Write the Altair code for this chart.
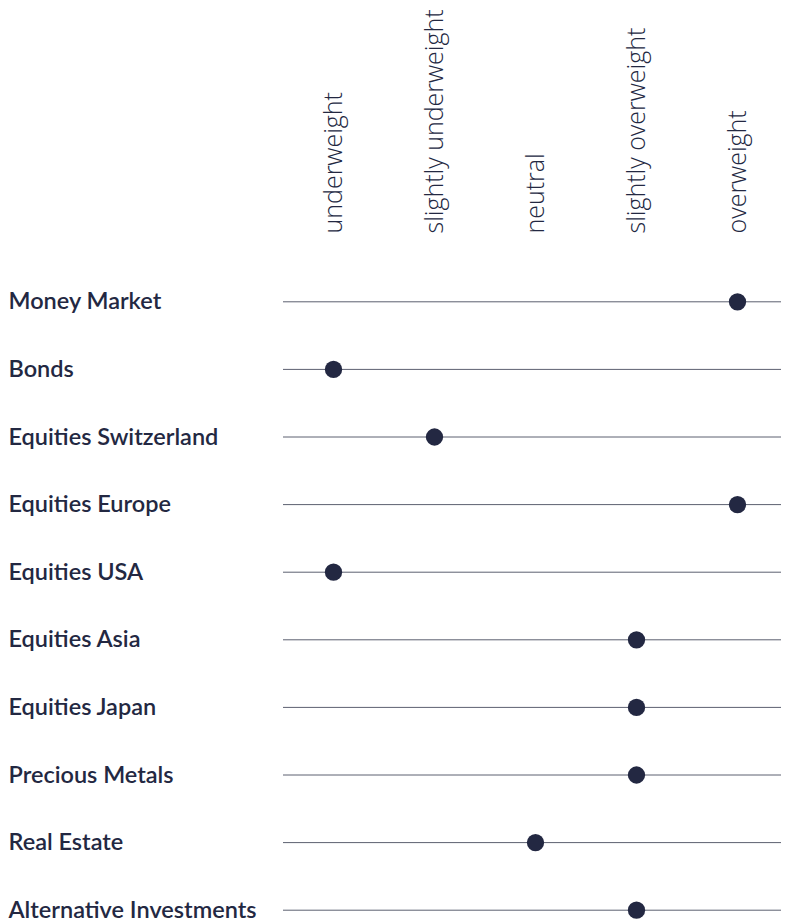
import altair as alt
import pandas as pd

categories = ["Money Market", "Bonds", "Equities Switzerland", "Equities Europe",
              "Equities USA", "Equities Asia", "Equities Japan", "Precious Metals",
              "Real Estate", "Alternative Investments"]
levels = ["underweight", "slightly underweight", "neutral", "slightly overweight", "overweight"]
positions = ["overweight", "underweight", "slightly underweight", "overweight",
             "underweight", "slightly overweight", "slightly overweight",
             "slightly overweight", "neutral", "slightly overweight"]

df = pd.DataFrame({"category": categories, "position": positions})

NAVY = "#232842"
LINE = "#5c6070"

xscale = alt.Scale(type="point", domain=levels, padding=0.5, range=[0, 505])
yscale = alt.Scale(type="point", domain=categories, padding=0.5)

base = alt.Chart(df)

rules = base.mark_rule(color=LINE, strokeWidth=1).encode(
    y=alt.Y("category:N", scale=yscale, sort=categories,
            axis=alt.Axis(title=None, orient="left", ticks=False, domain=False, grid=False,
                          labelAlign="left", labelPadding=275, labelBaseline="middle",
                          labelFont="Lato", labelFontWeight=600, labelFontSize=23.5,
                          labelColor=NAVY, labelLimit=300)),
    x=alt.value(0),
    x2=alt.value(505),
)

dots = base.mark_circle(color=NAVY, opacity=1, size=300).encode(
    y=alt.Y("category:N", scale=yscale, sort=categories),
    x=alt.X("position:N", scale=xscale, sort=levels,
            axis=alt.Axis(title=None, orient="top", ticks=False, domain=False, grid=False,
                          labelAngle=-90, labelAlign="left", labelBaseline="middle",
                          labelPadding=35, labelFont="Open Sans", labelFontWeight=300,
                          labelFontSize=25, labelColor=NAVY, labelLimit=400)),
)

chart = alt.layer(rules, dots).properties(
    width=498, height=676,
    autosize=alt.AutoSizeParams(type="none"),
    padding={"left": 275, "top": 260, "right": 0, "bottom": 0},
).configure(background="white").configure_view(stroke=None)

chart.save("out.html", embed_options={"renderer": "svg", "actions": False})
